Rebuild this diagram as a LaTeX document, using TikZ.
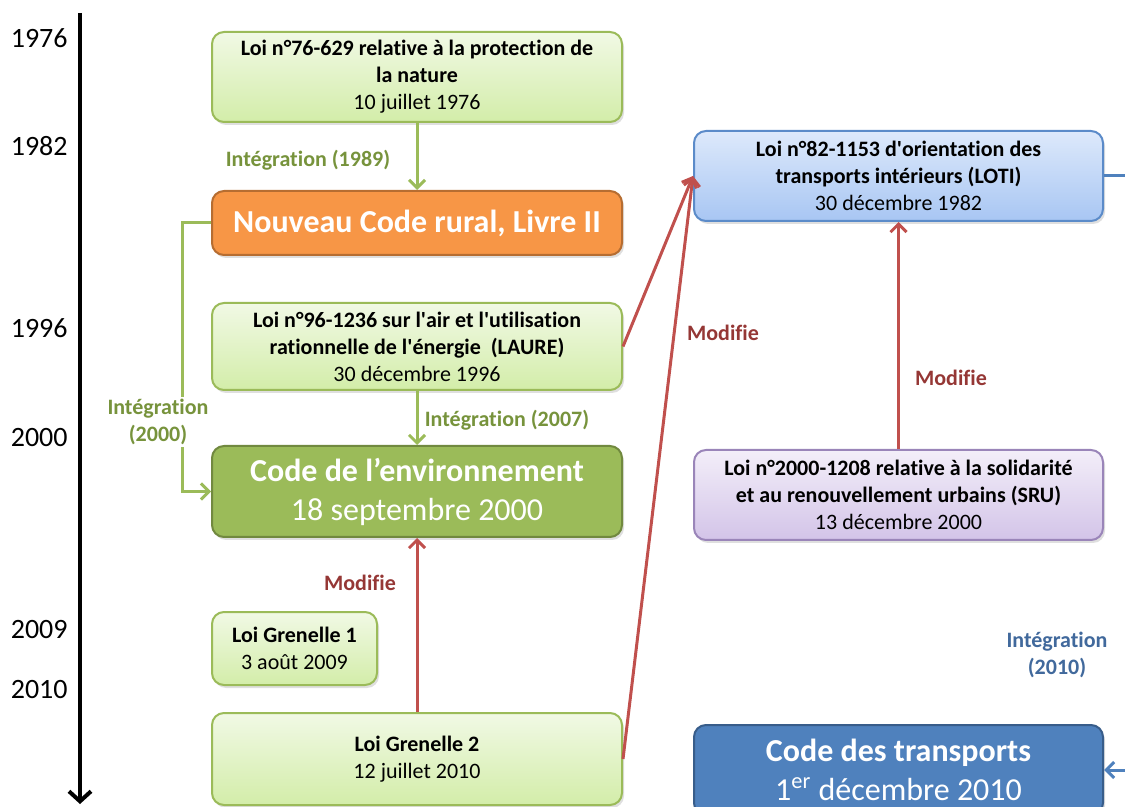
\documentclass[tikz,border=0pt]{standalone}
\usepackage{fontspec}
\setmainfont{Carlito}[Ligatures={TeX,NoCommon}]
\usetikzlibrary{arrows.meta,shadows}

\definecolor{lawtop}{HTML}{F1F9E5}
\definecolor{lawbot}{HTML}{D3EDA9}
\definecolor{lawedge}{HTML}{9BBB59}
\definecolor{rural}{HTML}{F79646}
\definecolor{ruraledge}{HTML}{B66D31}
\definecolor{envfill}{HTML}{9BBB59}
\definecolor{envedge}{HTML}{71893F}
\definecolor{lotitop}{HTML}{DDE9FB}
\definecolor{lotibot}{HTML}{A8C6F3}
\definecolor{lotiedge}{HTML}{5B8BC9}
\definecolor{srutop}{HTML}{F3EEF9}
\definecolor{srubot}{HTML}{D3C4E8}
\definecolor{sruedge}{HTML}{9A85B9}
\definecolor{transfill}{HTML}{4F81BD}
\definecolor{transedge}{HTML}{385D8A}
\definecolor{arrgreen}{HTML}{9BBB59}
\definecolor{txtgreen}{HTML}{77933C}
\definecolor{arrred}{HTML}{C0504D}
\definecolor{txtred}{HTML}{953735}
\definecolor{arrblue}{HTML}{4F81BD}
\definecolor{txtblue}{HTML}{41699C}

\begin{document}
\begin{tikzpicture}[x=0.5pt,y=-0.5pt,
    box/.style={rounded corners=6pt, line width=1pt, align=center, inner sep=0pt,
      drop shadow={shadow xshift=1pt, shadow yshift=-1.5pt, opacity=0.25}},
    law/.style={box, draw=lawedge, top color=lawtop, bottom color=lawbot,
      minimum width=205pt, font=\fontsize{11}{13.5}\selectfont},
    code/.style={box, text=white, minimum width=205pt, font=\fontsize{16}{19.5}\selectfont},
    year/.style={anchor=east, inner sep=0pt, font=\fontsize{14}{16}\selectfont},
    lbl/.style={align=center, inner sep=1pt, font=\fontsize{11}{13.5}\selectfont\bfseries},
    integ/.style={draw=arrgreen, line width=1.5pt, -{Straight Barb[length=4pt,width=8pt]}},
    modif/.style={draw=arrred, line width=1.5pt, -{Straight Barb[length=4pt,width=8pt]}},
    integb/.style={draw=arrblue, line width=1.5pt, -{Straight Barb[length=4pt,width=8pt]}}]

    \clip (0,0) rectangle (1125,807);
    \useasboundingbox (0,0) rectangle (1125,807);

    % time axis
    \coordinate (tltop) at (80,13);
    \coordinate (tlend) at (80,804);
    \draw[line width=2pt, -{Straight Barb[length=5pt,width=11pt]}] (tltop) -- (tlend);

    \node[year] (y1976) at (68,38) {1976};
    \node[year] (y1982) at (68,146) {1982};
    \node[year] (y1996) at (68,328) {1996};
    \node[year] (y2000) at (68,438) {2000};
    \node[year] (y2009) at (68,630) {2009};
    \node[year] (y2010) at (68,690) {2010};

    % left column
    \node[law, minimum height=45pt] (loi76) at (417,77)
      {\textbf{Loi n°76-629 relative à la protection de}\\\textbf{la nature}\\10 juillet 1976};
    \node[code, fill=rural, draw=ruraledge, minimum height=32pt] (rural) at (417,223)
      {\textbf{Nouveau Code rural, Livre II}};
    \node[law, minimum height=43.5pt] (laure) at (417,346.5)
      {\textbf{Loi n°96-1236 sur l\textquotesingle air et l\textquotesingle utilisation}\\\textbf{rationnelle de l\textquotesingle énergie\ \ (LAURE)}\\30 décembre 1996};
    \node[code, fill=envfill, draw=envedge, minimum height=45.5pt] (env) at (417,491.5)
      {\textbf{Code de l’environnement}\\18 septembre 2000};
    \node[law, minimum width=82.5pt, minimum height=36.5pt] (gren1) at (294.5,648.5)
      {\textbf{Loi Grenelle 1}\\3 août 2009};
    \node[law, minimum height=46pt] (gren2) at (417,759)
      {\textbf{Loi Grenelle 2}\\12 juillet 2010};

    % right column
    \node[law, draw=lotiedge, top color=lotitop, bottom color=lotibot, minimum width=204.5pt,
      minimum height=45pt] (loti) at (898.5,176)
      {\textbf{Loi n°82-1153 d\textquotesingle orientation des}\\\textbf{transports intérieurs (LOTI)}\\30 décembre 1982};
    \node[law, draw=sruedge, top color=srutop, bottom color=srubot, minimum width=204.5pt,
      minimum height=45pt] (sru) at (898.5,495)
      {\textbf{Loi n°2000-1208 relative à la solidarité}\\\textbf{et au renouvellement urbains (SRU)}\\13 décembre 2000};
    \node[code, fill=transfill, draw=transedge, minimum width=204.5pt, minimum height=45pt]
      (transports) at (898.5,770)
      {\textbf{Code des transports}\\1\textsuperscript{er} décembre 2010};

    % connectors
    \draw[integ] (loi76.south) -- (rural.north);
    \draw[integ] (laure.south) -- (env.north);
    \draw[integ] (rural.west) -- ++(-29,0) |- (env.west);
    \draw[modif] (gren2.north) -- (env.south);
    \draw[modif] (laure.east) -- (loti.west);
    \draw[modif] (gren2.east) -- (loti.west);
    \draw[modif] (sru.north) -- (loti.south);
    \draw[integb] (loti.east) -- ++(50,0) |- (transports.east);

    \node[lbl, text=txtgreen] (int1989) at (308,160) {Intégration (1989)};
    \node[lbl, text=txtgreen] (int2007) at (507,420) {Intégration (2007)};
    \node[lbl, text=txtgreen, fill=white] (int2000) at (158,422) {Intégration\\(2000)};
    \node[lbl, text=txtred] (mod1) at (360,583) {Modifie};
    \node[lbl, text=txtred] (mod2) at (723,333) {Modifie};
    \node[lbl, text=txtred] (mod3) at (951,378) {Modifie};
    \node[lbl, text=txtblue] (int2010) at (1057,655) {Intégration\\(2010)};

\end{tikzpicture}
\end{document}
